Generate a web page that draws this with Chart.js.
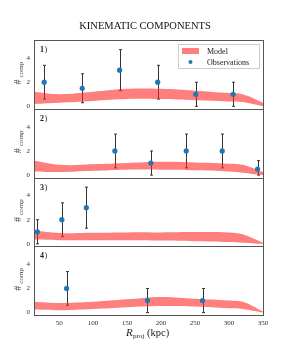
<!DOCTYPE html>
<html lang="en">
<head>
<meta charset="UTF-8">
<title>Kinematic components</title>
<script src="https://cdn.jsdelivr.net/npm/chart.js"></script>
<style>
  html, body { margin: 0; padding: 0; background: #fff; }
  #wrap { width: 293px; height: 355px; }
</style>
</head>
<body>
<div id="wrap"><canvas id="chart1" width="293" height="355"></canvas></div>
<script>
// model band: x positions, lower and upper edges per panel
const bandX = [13, 50, 100, 150, 200, 250, 300, 320, 350];
const bandLow = [
  [0.2, 0.3, 0.45, 0.6, 0.6, 0.5, 0.4, 0.35, 0.0],
  [0.3, 0.25, 0.35, 0.45, 0.45, 0.4, 0.3, 0.2, 0.0],
  [0.35, 0.3, 0.3, 0.3, 0.28, 0.22, 0.15, 0.1, 0.0],
  [0.25, 0.2, 0.3, 0.45, 0.55, 0.5, 0.35, 0.3, 0.0]
];
const bandHigh = [
  [1.2, 1.0, 1.2, 1.45, 1.45, 1.3, 1.1, 1.0, 0.3],
  [1.2, 0.85, 0.9, 1.0, 1.1, 1.05, 0.95, 0.85, 0.25],
  [1.1, 0.9, 0.92, 0.95, 0.95, 0.98, 0.95, 0.8, 0.1],
  [0.9, 0.8, 0.9, 1.1, 1.3, 1.15, 1.0, 0.9, 0.1]
];

// observations per panel
const obsX = [
  [28, 84, 139, 195, 251, 306],
  [132, 185, 237, 290, 342],
  [18, 54, 90],
  [61, 180, 261]
];
const obsY = [
  [2, 1.5, 3, 2, 1, 1],
  [2, 1, 2, 2, 0.5],
  [1, 2, 3],
  [2, 1, 1]
];
const obsLow = [
  [0.6, 0.3, 1.3, 0.6, 0, 0],
  [0.6, 0, 0.6, 0.6, 0],
  [0, 0.6, 1.3],
  [0.6, 0, 0]
];
const obsHigh = [
  [3.4, 2.7, 4.7, 3.4, 2, 2],
  [3.4, 2, 3.4, 3.4, 1.2],
  [2, 3.4, 4.7],
  [3.4, 2, 2]
];

const yTicks = [0, 2, 4];
const xTicks = [50, 100, 150, 200, 250, 300, 350];
const panelNames = ['1', '2', '3', '4'];

const SERIF = '"Liberation Serif", "DejaVu Serif", serif';
const bandColor = 'rgba(255, 40, 40, 0.6)';
const blue = '#1f77b4';

const datasets = [];
const scales = {
  x: {
    type: 'linear', min: 13, max: 350,
    grid: { display: false, drawTicks: true, tickLength: 3, color: '#333' },
    border: { display: false },
    ticks: { font: { family: SERIF, size: 7 }, color: '#333', padding: 1, maxRotation: 0 },
    afterBuildTicks: s => { s.ticks = xTicks.map(v => ({ value: v })); },
    afterFit: s => { s.height = 14; }
  }
};

// stacked axes are placed bottom-up in declaration order, so declare panel 4 first
for (let p = 3; p >= 0; p--) {
  scales['y' + p] = {
    type: 'linear', position: 'left', stack: 'panels', stackWeight: 1,
    min: -0.2, max: 5.5,
    grid: { display: false, drawTicks: true, tickLength: 3 },
    border: { display: false },
    ticks: { font: { family: SERIF, size: 7 }, color: '#333', padding: 1 },
    afterBuildTicks: s => { s.ticks = yTicks.map(v => ({ value: v })); },
    afterFit: s => { s.width = 14; }
  };
}

for (let p = 0; p < 4; p++) {
  const id = 'y' + p;
  datasets.push({
    label: 'low' + p, yAxisID: id, order: 1,
    data: bandX.map((x, i) => ({ x: x, y: bandLow[p][i] })),
    borderWidth: 0.01, borderColor: 'transparent', backgroundColor: 'transparent',
    pointRadius: 0, tension: 0.4, fill: false
  });
  datasets.push({
    label: p === 0 ? 'Model' : 'band' + p, yAxisID: id, order: 1,
    data: bandX.map((x, i) => ({ x: x, y: bandHigh[p][i] })),
    borderWidth: 0.01, borderColor: 'transparent',
    pointRadius: 0, tension: 0.4,
    fill: '-1', backgroundColor: bandColor
  });
  datasets.push({
    label: p === 0 ? 'Observations' : 'obs' + p, yAxisID: id, order: 0,
    type: 'scatter',
    data: obsX[p].map((x, i) => ({ x: x, y: obsY[p][i], lo: obsLow[p][i], hi: obsHigh[p][i] })),
    pointRadius: 2.6, backgroundColor: blue, borderColor: 'transparent', borderWidth: 0, showLine: false, fill: false
  });
}

// error bars, panel boxes, labels, title, axis titles, legend
const decorations = {
  id: 'decorations',
  beforeDatasetsDraw(chart) {
    const ctx = chart.ctx;
    const xs = chart.scales.x;
    ctx.save();
    ctx.strokeStyle = '#333';
    ctx.lineWidth = 1;
    chart.data.datasets.forEach(ds => {
      if (ds.type !== 'scatter') return;
      const ys = chart.scales[ds.yAxisID];
      ds.data.forEach(d => {
        const px = Math.round(xs.getPixelForValue(d.x)) + 0.5;
        const y1 = ys.getPixelForValue(d.lo);
        const y2 = ys.getPixelForValue(d.hi);
        ctx.beginPath();
        ctx.moveTo(px, y1); ctx.lineTo(px, y2);
        ctx.moveTo(px - 1.5, y1); ctx.lineTo(px + 1.5, y1);
        ctx.moveTo(px - 1.5, y2); ctx.lineTo(px + 1.5, y2);
        ctx.stroke();
      });
    });
    ctx.restore();
  },
  afterDraw(chart) {
    const ctx = chart.ctx;
    const a = chart.chartArea;
    const left = Math.round(a.left) + 0.5;
    const right = Math.round(a.right) + 0.5;
    ctx.save();
    ctx.strokeStyle = '#555';
    ctx.lineWidth = 1;
    ctx.textBaseline = 'alphabetic';
    for (let p = 0; p < 4; p++) {
      const ys = chart.scales['y' + p];
      const top = Math.round(ys.top) + 0.5;
      const bottom = Math.round(ys.bottom) + 0.5;
      ctx.strokeStyle = '#555';
      ctx.strokeRect(left, top, right - left, bottom - top);
      // panel label
      ctx.fillStyle = '#222';
      ctx.textAlign = 'left';
      ctx.font = 'bold 8px ' + SERIF;
      ctx.fillText(panelNames[p], a.left + 6, ys.top + 12);
      ctx.font = '8px ' + SERIF;
      ctx.fillText(')', a.left + 10.5, ys.top + 12);
      // y axis title: #comp
      const cy = (ys.top + ys.bottom) / 2 - 1;
      ctx.save();
      ctx.translate(21, cy);
      ctx.rotate(-Math.PI / 2);
      ctx.fillStyle = '#444';
      ctx.font = '10px ' + SERIF;
      ctx.textAlign = 'left';
      ctx.fillText('#', -11, 0);
      ctx.font = '7px ' + SERIF;
      ctx.fillText('comp', -4, 2);
      ctx.restore();
    }
    // x axis title: R_proj (kpc)
    ctx.fillStyle = '#222';
    ctx.textAlign = 'left';
    ctx.font = 'italic 11px ' + SERIF;
    ctx.fillText('R', 126, 336);
    ctx.font = '7px ' + SERIF;
    ctx.fillText('proj', 133, 338);
    ctx.font = '10.5px ' + SERIF;
    ctx.fillText('(kpc)', 147, 336);
    // title
    ctx.fillStyle = '#111';
    ctx.font = '10.5px ' + SERIF;
    ctx.textAlign = 'center';
    ctx.fillText('KINEMATIC COMPONENTS', 145, 29);
    // legend
    const lx = 178, ly = 44, lw = 81, lh = 24;
    ctx.fillStyle = 'rgba(255,255,255,0.85)';
    ctx.fillRect(lx, ly, lw, lh);
    ctx.strokeStyle = '#ccc';
    ctx.strokeRect(lx + 0.5, ly + 0.5, lw, lh);
    ctx.fillStyle = bandColor;
    ctx.fillRect(lx + 4, ly + 4, 17, 6);
    ctx.fillStyle = blue;
    ctx.beginPath();
    ctx.arc(lx + 12.5, ly + 18, 2, 0, Math.PI * 2);
    ctx.fill();
    ctx.fillStyle = '#222';
    ctx.font = '8px ' + SERIF;
    ctx.textAlign = 'left';
    ctx.fillText('Model', lx + 29, ly + 10);
    ctx.fillText('Observations', lx + 29, ly + 21);
    ctx.restore();
  }
};

new Chart(document.getElementById('chart1'), {
  type: 'line',
  data: { datasets: datasets },
  options: {
    responsive: false,
    animation: false,
    layout: { padding: { top: 40, right: 30, left: 20, bottom: 26 } },
    plugins: { legend: { display: false }, tooltip: { enabled: false }, filler: { propagate: false } },
    scales: scales
  },
  plugins: [decorations]
});
</script>
</body>
</html>
